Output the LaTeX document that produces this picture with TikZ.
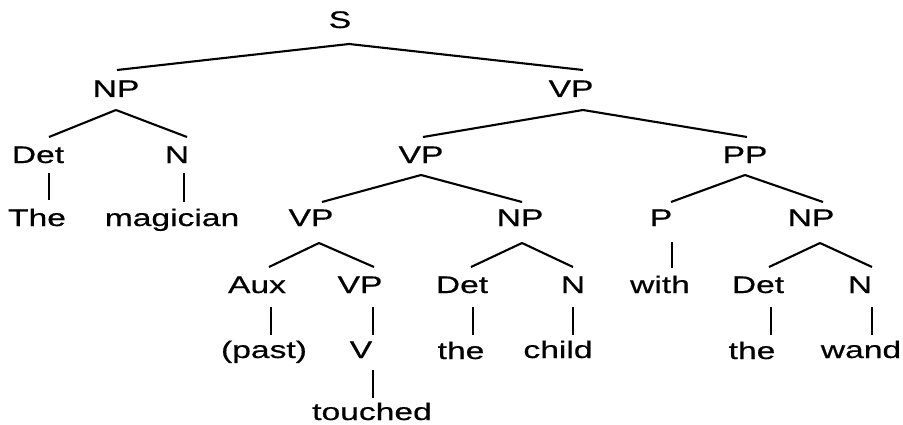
\documentclass[tikz,border=0pt]{standalone}
\usepackage{fontspec}
\setmainfont[FakeStretch=1.4,FakeBold=0.6]{Liberation Sans}
\begin{document}
\begin{tikzpicture}[x=1pt,y=1pt,
  lbl/.style={anchor=base,inner sep=0pt,font=\fontsize{24}{28}\selectfont},
  edge/.style={line width=2.1pt,line cap=butt}]
\useasboundingbox (0,0) rectangle (903,424);
% nodes: (x, 424-baseline)
\node[lbl] (S)    at (340,396) {S};
\node[lbl] (NPa)  at (116,327) {NP};
\node[lbl] (VPa)  at (571,327) {VP};
\node[lbl] (Deta) at (38,261) {Det};
\node[lbl] (Na)   at (177,261) {N};
\node[lbl] (VPb)  at (421,261) {VP};
\node[lbl] (PP)   at (745,261) {PP};
\node[lbl] (The)  at (37,198) {The};
\node[lbl] (mag)  at (172,198) {magician};
\node[lbl] (VPc)  at (311,198) {VP};
\node[lbl] (NPb)  at (520,198) {NP};
\node[lbl] (P)    at (661,198) {P};
\node[lbl] (NPc)  at (811,198) {NP};
\node[lbl] (Aux)  at (257,131) {Aux};
\node[lbl] (VPd)  at (360,131) {VP};
\node[lbl] (Detb) at (462,131) {Det};
\node[lbl] (Nb)   at (573,131) {N};
\node[lbl] (with) at (660,131) {with};
\node[lbl] (Detc) at (758,131) {Det};
\node[lbl] (Nc)   at (860,131) {N};
\node[lbl] (past) at (264,66) {(past)};
\node[lbl] (V)    at (361,66) {V};
\node[lbl] (theb) at (461,65) {the};
\node[lbl] (child) at (558,66) {child};
\node[lbl] (thec) at (752,65) {the};
\node[lbl] (wand) at (861,66) {wand};
\node[lbl] (touched) at (372,4) {touched};
% connectors
\draw[edge] ([shift={(9,-16)}]S.base) -- ([shift={(1,27)}]NPa.base);
\draw[edge] ([shift={(9,-16)}]S.base) -- ([shift={(12,27)}]VPa.base);
\draw[edge] ([shift={(0,-13)}]NPa.base) -- ([shift={(11,26)}]Deta.base);
\draw[edge] ([shift={(0,-13)}]NPa.base) -- ([shift={(10,26)}]Na.base);
\draw[edge] ([shift={(12,-13)}]VPa.base) -- ([shift={(2,26)}]VPb.base);
\draw[edge] ([shift={(12,-13)}]VPa.base) -- ([shift={(2,26)}]PP.base);
\draw[edge] ([shift={(11,-10)}]Deta.base) -- ([shift={(12,26)}]The.base);
\draw[edge] ([shift={(7,-10)}]Na.base) -- ([shift={(12,24)}]mag.base);
\draw[edge] ([shift={(0,-12)}]VPb.base) -- ([shift={(11,24)}]VPc.base);
\draw[edge] ([shift={(0,-12)}]VPb.base) -- ([shift={(2,24)}]NPb.base);
\draw[edge] ([shift={(0,-12)}]PP.base) -- ([shift={(10,24)}]P.base);
\draw[edge] ([shift={(0,-12)}]PP.base) -- ([shift={(12,24)}]NPc.base);
\draw[edge] ([shift={(8,-17)}]VPc.base) -- ([shift={(12,26)}]Aux.base);
\draw[edge] ([shift={(8,-17)}]VPc.base) -- ([shift={(14,26)}]VPd.base);
\draw[edge] ([shift={(2,-17)}]NPb.base) -- ([shift={(9,26)}]Detb.base);
\draw[edge] ([shift={(2,-17)}]NPb.base) -- ([shift={(0,26)}]Nb.base);
\draw[edge] ([shift={(11,-16)}]P.base) -- ([shift={(12,25)}]with.base);
\draw[edge] ([shift={(9,-17)}]NPc.base) -- ([shift={(11,26)}]Detc.base);
\draw[edge] ([shift={(9,-17)}]NPc.base) -- ([shift={(12,26)}]Nc.base);
\draw[edge] ([shift={(14,-14)}]Aux.base) -- ([shift={(7,23)}]past.base);
\draw[edge] ([shift={(13,-14)}]VPd.base) -- ([shift={(12,23)}]V.base);
\draw[edge] ([shift={(11,-14)}]Detb.base) -- ([shift={(12,24)}]theb.base);
\draw[edge] ([shift={(0,-14)}]Nb.base) -- ([shift={(15,23)}]child.base);
\draw[edge] ([shift={(13,-14)}]Detc.base) -- ([shift={(19,24)}]thec.base);
\draw[edge] ([shift={(12,-14)}]Nc.base) -- ([shift={(11,23)}]wand.base);
\draw[edge] ([shift={(12,-12)}]V.base) -- ([shift={(1,22)}]touched.base);
\end{tikzpicture}
\end{document}
